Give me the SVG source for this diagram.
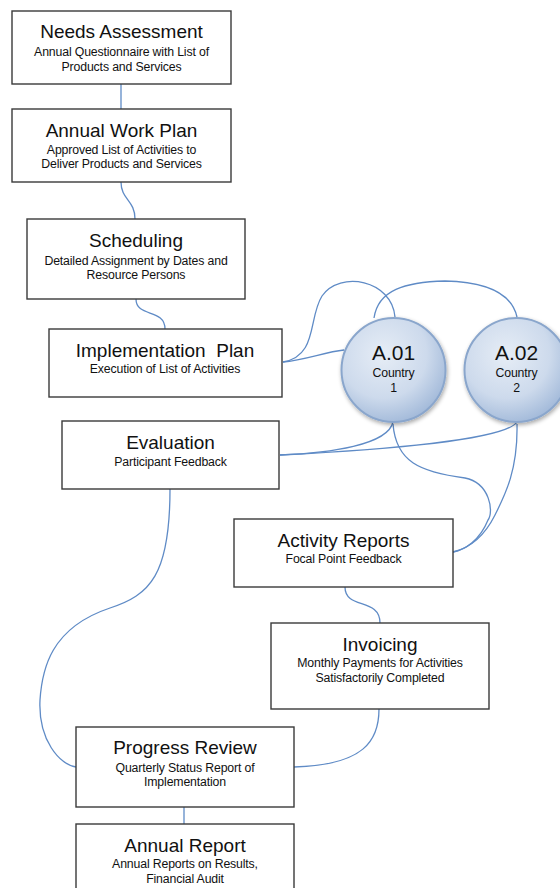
<svg xmlns="http://www.w3.org/2000/svg" width="560" height="888" viewBox="0 0 560 888">
  <defs>
    <radialGradient id="ballFill" cx="0.4" cy="0.35" r="0.7">
      <stop offset="0" stop-color="#e6edf6"/>
      <stop offset="0.6" stop-color="#cddaec"/>
      <stop offset="1" stop-color="#9fb7d8"/>
    </radialGradient>
    <filter id="shadow" x="-20%" y="-20%" width="140%" height="140%">
      <feGaussianBlur in="SourceAlpha" stdDeviation="2"/>
      <feOffset dx="1" dy="2" result="b"/>
      <feComponentTransfer><feFuncA type="linear" slope="0.35"/></feComponentTransfer>
      <feMerge><feMergeNode/><feMergeNode in="SourceGraphic"/></feMerge>
    </filter>
  </defs>
  <style>
    .box { fill: #ffffff; stroke: #3a3a3a; stroke-width: 1.4; }
    .ball { fill: url(#ballFill); stroke: #8aa6cc; stroke-width: 2; }
    .title { font-family: "Liberation Sans", Arial, sans-serif; font-size: 19px; fill: #111; text-anchor: middle; }
    .sub { font-family: "Liberation Sans", Arial, sans-serif; font-size: 12.3px; fill: #111; text-anchor: middle; letter-spacing: -0.15px; }
    .code { font-family: "Liberation Sans", Arial, sans-serif; font-size: 21px; fill: #111; text-anchor: middle; }
    .link { fill: none; stroke: #5f8bc6; stroke-width: 1.3; }
  </style>

  <rect width="560" height="888" fill="#ffffff"/>

  <g id="connectors">
    <path class="link" d="M121,84 L121,109"/>
    <path class="link" d="M121,182 C121,200 135,200 135,219"/>
    <path class="link" d="M136,299 C136,318 165,308 165,329"/>
    <path class="link" d="M283,362 C305,360 325,352 344,350"/>
    <path class="link" d="M283,362 C318,356 308,318 322,296 C340,270 392,280 395,317"/>
    <path class="link" d="M374,318 C378,290 405,282 445,281 C490,282 512,295 517,317"/>
    <path class="link" d="M280,455 C330,453 388,445 393,422"/>
    <path class="link" d="M280,455 C380,450 505,440 517,422"/>
    <path class="link" d="M393,424 C396,462 420,472 465,478 C490,483 494,512 488,520 C480,540 465,550 453,552"/>
    <path class="link" d="M517,424 C518,470 505,495 495,515 C485,535 470,548 453,552"/>
    <path class="link" d="M345,587 C345,610 380,597 380,623"/>
    <path class="link" d="M379,709 C379,740 365,765 294,767"/>
    <path class="link" d="M170,489 C170,575 150,595 110,608 C50,628 42,670 40,700 C38,740 60,765 76,767"/>
    <path class="link" d="M184,807 L184,824"/>
  </g>

  <g id="needs-assessment">
    <rect class="box" x="12" y="11" width="219" height="73"/>
    <text class="title" x="121.5" y="38">Needs Assessment</text>
    <text class="sub" x="121.5" y="56">Annual Questionnaire with List of</text>
    <text class="sub" x="121.5" y="71">Products and Services</text>
  </g>

  <g id="annual-work-plan">
    <rect class="box" x="12" y="109" width="219" height="73"/>
    <text class="title" x="121.5" y="137">Annual Work Plan</text>
    <text class="sub" x="121.5" y="154">Approved List of Activities to</text>
    <text class="sub" x="121.5" y="168">Deliver Products and Services</text>
  </g>

  <g id="scheduling">
    <rect class="box" x="27" y="219" width="218" height="80"/>
    <text class="title" x="136" y="247">Scheduling</text>
    <text class="sub" x="136" y="265">Detailed Assignment by Dates and</text>
    <text class="sub" x="136" y="279">Resource Persons</text>
  </g>

  <g id="implementation-plan">
    <rect class="box" x="49" y="329" width="233" height="68"/>
    <text class="title" x="165" y="357" xml:space="preserve">Implementation  Plan</text>
    <text class="sub" x="165" y="373">Execution of List of Activities</text>
  </g>

  <g id="a01">
    <circle class="ball" cx="393.5" cy="370" r="52" filter="url(#shadow)"/>
    <text class="code" x="393.5" y="360">A.01</text>
    <text class="sub" x="393.5" y="377">Country</text>
    <text class="sub" x="393.5" y="392">1</text>
  </g>

  <g id="a02">
    <circle class="ball" cx="516.5" cy="370" r="52" filter="url(#shadow)"/>
    <text class="code" x="516.5" y="360">A.02</text>
    <text class="sub" x="516.5" y="377">Country</text>
    <text class="sub" x="516.5" y="392">2</text>
  </g>

  <g id="evaluation">
    <rect class="box" x="62" y="421" width="217" height="68"/>
    <text class="title" x="170.5" y="449">Evaluation</text>
    <text class="sub" x="170.5" y="466">Participant Feedback</text>
  </g>

  <g id="activity-reports">
    <rect class="box" x="234" y="519" width="219" height="68"/>
    <text class="title" x="343.5" y="547">Activity Reports</text>
    <text class="sub" x="343.5" y="563">Focal Point Feedback</text>
  </g>

  <g id="invoicing">
    <rect class="box" x="271" y="623" width="218" height="86"/>
    <text class="title" x="380" y="651">Invoicing</text>
    <text class="sub" x="380" y="667">Monthly Payments for Activities</text>
    <text class="sub" x="380" y="682">Satisfactorily Completed</text>
  </g>

  <g id="progress-review">
    <rect class="box" x="76" y="727" width="218" height="80"/>
    <text class="title" x="185" y="754">Progress Review</text>
    <text class="sub" x="185" y="772">Quarterly Status Report of</text>
    <text class="sub" x="185" y="786">Implementation</text>
  </g>

  <g id="annual-report">
    <rect class="box" x="76" y="824" width="218" height="80"/>
    <text class="title" x="185" y="852">Annual Report</text>
    <text class="sub" x="185" y="868">Annual Reports on Results,</text>
    <text class="sub" x="185" y="883">Financial Audit</text>
  </g>
</svg>
